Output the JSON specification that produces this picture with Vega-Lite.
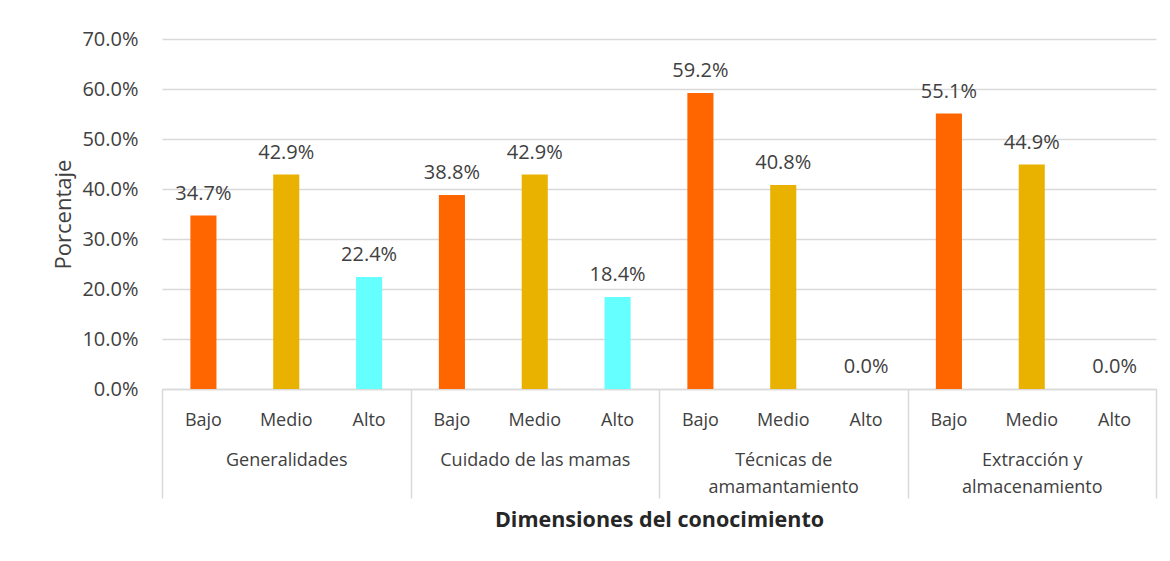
{
  "$schema": "https://vega.github.io/schema/vega-lite/v6.json",
  "width": 994,
  "height": 350,
  "autosize": "none",
  "padding": {"left": 162, "top": 39, "right": 14, "bottom": 172},
  "background": "white",
  "config": {"view": {"stroke": null}, "font": "Open Sans"},
  "data": {
    "values": [
      {"dimension": "Generalidades", "nivel": "Bajo", "slot": "Generalidades|Bajo", "porcentaje": 0.347},
      {"dimension": "Generalidades", "nivel": "Medio", "slot": "Generalidades|Medio", "porcentaje": 0.429},
      {"dimension": "Generalidades", "nivel": "Alto", "slot": "Generalidades|Alto", "porcentaje": 0.224},
      {"dimension": "Cuidado de las mamas", "nivel": "Bajo", "slot": "Cuidado de las mamas|Bajo", "porcentaje": 0.388},
      {"dimension": "Cuidado de las mamas", "nivel": "Medio", "slot": "Cuidado de las mamas|Medio", "porcentaje": 0.429},
      {"dimension": "Cuidado de las mamas", "nivel": "Alto", "slot": "Cuidado de las mamas|Alto", "porcentaje": 0.184},
      {"dimension": "Técnicas de amamantamiento", "nivel": "Bajo", "slot": "Técnicas de amamantamiento|Bajo", "porcentaje": 0.592},
      {"dimension": "Técnicas de amamantamiento", "nivel": "Medio", "slot": "Técnicas de amamantamiento|Medio", "porcentaje": 0.408},
      {"dimension": "Técnicas de amamantamiento", "nivel": "Alto", "slot": "Técnicas de amamantamiento|Alto", "porcentaje": 0.0},
      {"dimension": "Extracción y almacenamiento", "nivel": "Bajo", "slot": "Extracción y almacenamiento|Bajo", "porcentaje": 0.551},
      {"dimension": "Extracción y almacenamiento", "nivel": "Medio", "slot": "Extracción y almacenamiento|Medio", "porcentaje": 0.449},
      {"dimension": "Extracción y almacenamiento", "nivel": "Alto", "slot": "Extracción y almacenamiento|Alto", "porcentaje": 0.0}
    ]
  },
  "layer": [
    {
      "encoding": {
        "x": {
          "field": "slot",
          "type": "nominal",
          "sort": null,
          "scale": {"paddingInner": 0.685, "paddingOuter": 0.3425},
          "axis": {
            "title": null,
            "labelExpr": "split(datum.label, '|')[1]",
            "labelAngle": 0,
            "labelFontSize": 18,
            "labelColor": "#404040",
            "labelPadding": 22,
            "labelLimit": 0,
            "ticks": false,
            "grid": false,
            "domainColor": "#d9d9d9",
            "domainWidth": 1.5
          }
        },
        "y": {
          "field": "porcentaje",
          "type": "quantitative",
          "scale": {"domain": [0, 0.7], "nice": false},
          "axis": {
            "values": [0, 0.1, 0.2, 0.3, 0.4, 0.5, 0.6, 0.7],
            "format": ".1%",
            "labelFontSize": 20,
            "labelColor": "#404040",
            "labelPadding": 24,
            "ticks": false,
            "domain": false,
            "gridColor": "#d9d9d9",
            "gridWidth": 1.5,
            "title": "Porcentaje",
            "titleFontSize": 22,
            "titleFontWeight": "normal",
            "titleColor": "#404040",
            "titlePadding": 6
          }
        }
      },
      "layer": [
        {
          "mark": {"type": "bar"},
          "encoding": {
            "color": {
              "field": "nivel",
              "type": "nominal",
              "scale": {"domain": ["Bajo", "Medio", "Alto"], "range": ["#FF6600", "#EAB200", "#66FFFF"]},
              "legend": null
            }
          }
        },
        {
          "mark": {"type": "text", "baseline": "alphabetic", "dy": -16, "fontSize": 20, "color": "#404040"},
          "encoding": {
            "text": {"field": "porcentaje", "type": "quantitative", "format": ".1%"}
          }
        }
      ]
    },
    {
      "mark": {"type": "rule", "opacity": 0},
      "encoding": {
        "x": {
          "datum": 0,
          "type": "quantitative",
          "scale": {"domain": [0, 4], "nice": false, "zero": false},
          "axis": {
            "orient": "bottom",
            "values": [0, 0.5, 1, 1.5, 2, 2.5, 3, 3.5, 4],
            "domain": false,
            "grid": false,
            "tickSize": 109,
            "tickColor": "#d9d9d9",
            "tickWidth": 1.5,
            "tickOpacity": {"condition": {"test": "datum.value % 1 === 0", "value": 1}, "value": 0},
            "labelExpr": "datum.value === 0.5 ? 'Generalidades' : datum.value === 1.5 ? 'Cuidado de las mamas' : datum.value === 2.5 ? ['Técnicas de', 'amamantamiento'] : datum.value === 3.5 ? ['Extracción y', 'almacenamiento'] : ''",
            "labelFontSize": 18,
            "labelColor": "#404040",
            "labelPadding": -47,
            "labelLineHeight": 27,
            "labelLimit": 0,
            "labelBaseline": "top",
            "labelFlush": false,
            "labelOverlap": false,
            "labelBound": false,
            "title": "Dimensiones del conocimiento",
            "titleFontSize": 21.5,
            "titleFontWeight": "bold",
            "titleColor": "#262626",
            "titlePadding": 11
          }
        }
      }
    }
  ],
  "resolve": {"scale": {"x": "independent"}, "axis": {"x": "independent"}}
}
